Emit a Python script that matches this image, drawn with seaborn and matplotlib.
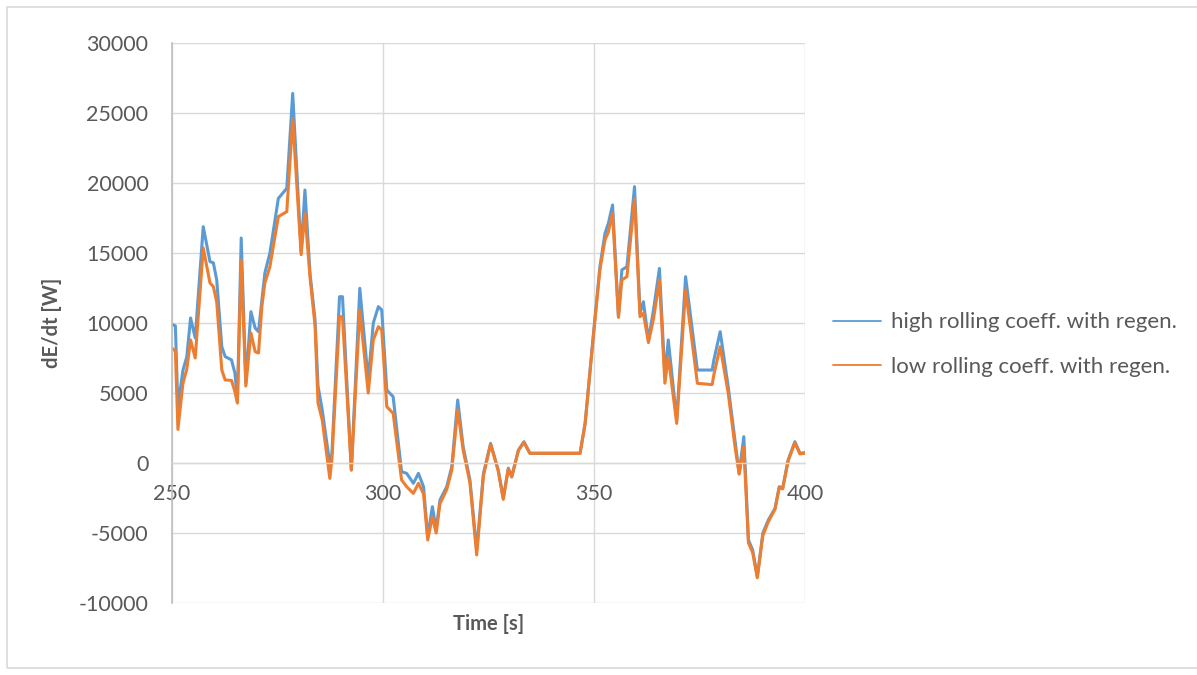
import matplotlib
matplotlib.use("Agg")
import matplotlib.pyplot as plt
import seaborn as sns
import pandas as pd
from matplotlib.patches import Rectangle

time_s = [250, 250.8, 251.4, 252.6, 253.5, 254.4, 255.5, 257.4, 259.0, 259.8,
          260.6, 261.8, 262.6, 264.1, 264.9, 265.5, 266.4, 267.5, 268.7, 269.7,
          270.5, 271.3, 272.0, 273.2, 275.2, 277.2, 278.6, 280.6, 281.5, 282.7,
          283.9, 284.6, 285.6, 287.4, 287.9, 289.7, 290.4, 292.5, 294.5, 296.5,
          297.7, 298.9, 299.7, 300.9, 302.4, 304.4, 305.6, 307.2, 308.4, 309.6,
          310.6, 311.7, 312.6, 313.5, 315.1, 316.3, 317.7, 319.0, 320.6, 322.2,
          323.8, 325.5, 327.3, 328.5, 329.7, 330.5, 332.1, 333.4, 334.8, 346.7,
          347.9, 349.8, 351.4, 352.6, 353.4, 354.4, 355.8, 356.6, 357.8, 359.6,
          360.9, 361.7, 362.9, 364.1, 365.5, 366.8, 367.6, 369.6, 371.7, 374.5,
          378.0, 378.4, 379.9, 381.8, 383.4, 384.4, 385.5, 386.6, 387.6, 388.7,
          390.0, 391.3, 392.9, 393.9, 394.7, 396.0, 397.6, 398.8, 400]

high_rolling = [9900, 9800, 4000, 6640, 7570, 10360, 8930, 16880, 14380, 14300,
                13070, 8310, 7600, 7360, 6430, 4500, 16070, 5710, 10810, 9640,
                9380, 11640, 13570, 15000, 18900, 19620, 26400, 15100, 19500, 13570,
                10210, 5500, 3790, -100, 710, 11880, 11880, -500, 12480, 5930,
                10000, 11170, 10930, 5210, 4740, -620, -740, -1450, -740, -1690,
                -5260, -3120, -4790, -2640, -1690, -260, 4500, 1160, -1210, -6210,
                -740, 1400, -500, -2500, -370, -980, 930, 1520, 700, 700,
                2860, 9020, 14020, 16400, 17120, 18430, 10450, 13790, 14020, 19740,
                10690, 11520, 8790, 10930, 13900, 6170, 8790, 3070, 13310, 6640,
                6640, 7360, 9380, 5450, 1640, -740, 1880, -5500, -6210, -8120,
                -5020, -4070, -3240, -1690, -1810, 210, 1520, 690, 740]

low_rolling = [8200, 8000, 2400, 5700, 6700, 8790, 7500, 15360, 12860, 12600,
               11500, 6640, 5930, 5900, 5100, 4280, 14500, 5500, 9290, 7950,
               7860, 11170, 12860, 14020, 17600, 17950, 24600, 14880, 17850, 13280,
               9800, 4300, 3070, -1100, 300, 10450, 10450, -500, 10930, 5000,
               8790, 9740, 9500, 4020, 3550, -1210, -1690, -2170, -1450, -2200,
               -5500, -3830, -5000, -2900, -1900, -500, 3790, 900, -1400, -6570,
               -900, 1350, -550, -2600, -400, -1000, 900, 1480, 690, 690,
               2800, 8900, 13800, 15930, 16500, 17830, 10400, 13070, 13310, 18900,
               10450, 10690, 8600, 10300, 13070, 5700, 7600, 2830, 12360, 5690,
               5600, 6300, 8310, 5000, 1200, -800, 1160, -5700, -6400, -8200,
               -5200, -4200, -3300, -1750, -1850, 150, 1450, 650, 700]

series_names = ["high rolling coeff. with regen.", "low rolling coeff. with regen."]
x_ticks = [250, 300, 350, 400]
y_ticks = [-10000, -5000, 0, 5000, 10000, 15000, 20000, 25000, 30000]

df = pd.concat([
    pd.DataFrame({"Time": time_s, "dEdt": high_rolling, "series": series_names[0]}),
    pd.DataFrame({"Time": time_s, "dEdt": low_rolling, "series": series_names[1]}),
])

sns.set_theme(style="white")
plt.rcParams["font.family"] = ["Lato", "DejaVu Sans"]

txt = "#595959"
grid = "#d9d9d9"

fig = plt.figure(figsize=(11.97, 6.75), dpi=100)
fig.patch.set_facecolor("white")
fig.patches.append(Rectangle((7 / 1197, 1 - 668 / 675), 1.0, 661 / 675,
                             transform=fig.transFigure, fill=False,
                             edgecolor="#d9d9d9", linewidth=1.2))
ax = fig.add_axes([172 / 1197, 1 - 603 / 675, (805 - 172) / 1197, (603 - 43) / 675])

palette = {series_names[0]: "#5B9BD5", series_names[1]: "#ED7D31"}
sns.lineplot(data=df, x="Time", y="dEdt", hue="series", palette=palette,
             linewidth=2.2, ax=ax, sort=False, estimator=None)

ax.set_xlim(250, 400)
ax.set_ylim(-10000, 30000)
ax.set_xticks(x_ticks)
ax.set_yticks(y_ticks)
ax.set_xticklabels([str(v) for v in x_ticks])
ax.set_yticklabels([str(v) for v in y_ticks])
ax.grid(True, color=grid, linewidth=1.0)
ax.set_axisbelow(True)

for s in ["top", "right"]:
    ax.spines[s].set_visible(False)
ax.spines["left"].set_color("#bfbfbf")
ax.spines["left"].set_linewidth(1.2)
ax.spines["bottom"].set_position(("data", 0))
ax.spines["bottom"].set_color(grid)
ax.spines["bottom"].set_linewidth(1.0)

ax.tick_params(axis="both", length=0, labelsize=15.5, colors=txt)
ax.tick_params(axis="x", pad=15)
ax.tick_params(axis="y", pad=17)

ax.set_xlabel("Time [s]", fontsize=14.5, fontweight="bold", color=txt, labelpad=0)
ax.xaxis.set_label_coords(0.5, -0.02)
ax.set_ylabel("dE/dt [W]", fontsize=14.5, fontweight="bold", color=txt, labelpad=12)

handles, labels = ax.get_legend_handles_labels()
for h in handles:
    h.set_linewidth(1.3)
leg = ax.legend(handles, labels, loc="center left", bbox_to_anchor=(1.013, 0.4616),
                frameon=False, fontsize=16, handlelength=2.15, handletextpad=0.45,
                labelspacing=1.1, labelcolor=txt)

fig.savefig("out.png", dpi=100)
